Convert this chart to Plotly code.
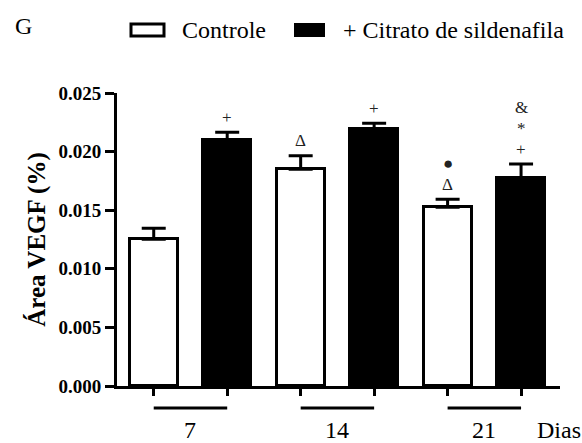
import plotly.graph_objects as go

# ---- data ----
days = ["7", "14", "21"]
group_names = ["Controle", "+ Citrato de sildenafila"]
controle_mean = [0.01252, 0.01849, 0.01525]
controle_sem = [0.00094, 0.00116, 0.00068]
sild_mean = [0.02099, 0.02196, 0.01777]
sild_sem = [0.00066, 0.00045, 0.00117]
controle_sig = [[], ["Δ"], ["Δ", "●"]]
sild_sig = [["+"], ["+"], ["+", "*", "&"]]
y_ticks = [0.000, 0.005, 0.010, 0.015, 0.020, 0.025]
y_title = "Área VEGF (%)"
x_unit = "Dias"
panel = "G"

# ---- geometry ----
W, H = 582, 443
ML, MR, MT, MB = 117, 22, 93, 57
PW, PH = W - ML - MR, H - MT - MB


def px_x(x):
    return (x - ML) / PW


def px_y(y):
    return (H - MB - y) / PH


SERIF = "Liberation Serif"

ctrl_pos = [2 * i for i in range(len(days))]
sild_pos = [2 * i + 1 for i in range(len(days))]

fig = go.Figure()
fig.add_trace(go.Bar(
    x=ctrl_pos, y=controle_mean, name=group_names[0], width=0.655,
    marker=dict(color="white", line=dict(color="black", width=3)),
    error_y=dict(type="data", symmetric=False, array=controle_sem,
                 arrayminus=[0] * len(days), color="black", thickness=3, width=12),
))
fig.add_trace(go.Bar(
    x=sild_pos, y=sild_mean, name=group_names[1], width=0.655,
    marker=dict(color="black", line=dict(color="black", width=3)),
    error_y=dict(type="data", symmetric=False, array=sild_sem,
                 arrayminus=[0] * len(days), color="black", thickness=3, width=12),
))

annotations = []
# significance symbols
for pos, mean, sem, sig in list(zip(ctrl_pos, controle_mean, controle_sem, controle_sig)) + \
        list(zip(sild_pos, sild_mean, sild_sem, sild_sig)):
    for k, s in enumerate(sig):
        annotations.append(dict(
            x=pos, y=mean + sem, xref="x", yref="y", text=s, showarrow=False,
            yanchor="middle", xanchor="center", yshift=15 + 21 * k,
            font=dict(family=SERIF, size=17, color="#222")))

shapes = []
# group underlines and labels
for i, d in enumerate(days):
    shapes.append(dict(type="line", xref="x", yref="paper",
                       x0=ctrl_pos[i], x1=sild_pos[i], y0=px_y(408), y1=px_y(408),
                       line=dict(color="black", width=3)))
    annotations.append(dict(x=(ctrl_pos[i] + sild_pos[i]) / 2, y=px_y(430),
                            xref="x", yref="paper", text=d, showarrow=False,
                            xanchor="center", yanchor="middle",
                            font=dict(family=SERIF, size=24, color="black")))
annotations.append(dict(x=px_x(535), y=px_y(430), xref="paper", yref="paper",
                        text=x_unit, showarrow=False, xanchor="left", yanchor="middle",
                        font=dict(family=SERIF, size=24, color="black")))

# panel letter
annotations.append(dict(x=px_x(13), y=px_y(26), xref="paper", yref="paper",
                        text=panel, showarrow=False, xanchor="left", yanchor="middle",
                        font=dict(family=SERIF, size=24, color="black")))

# manual legend
shapes.append(dict(type="rect", xref="paper", yref="paper",
                   x0=px_x(131), x1=px_x(164), y0=px_y(36), y1=px_y(24),
                   fillcolor="white", line=dict(color="black", width=3)))
annotations.append(dict(x=px_x(180), y=px_y(30), xref="paper", yref="paper",
                        text=group_names[0], showarrow=False, xanchor="left", yanchor="middle",
                        font=dict(family=SERIF, size=24, color="black")))
shapes.append(dict(type="rect", xref="paper", yref="paper",
                   x0=px_x(294), x1=px_x(325), y0=px_y(37), y1=px_y(23),
                   fillcolor="black", line=dict(color="black", width=0)))
annotations.append(dict(x=px_x(341), y=px_y(30), xref="paper", yref="paper",
                        text=group_names[1], showarrow=False, xanchor="left", yanchor="middle",
                        font=dict(family=SERIF, size=24, color="black")))

fig.update_layout(
    width=W, height=H,
    margin=dict(l=ML, r=MR, t=MT, b=MB, pad=0),
    paper_bgcolor="white", plot_bgcolor="white",
    showlegend=False, bargap=0,
    annotations=annotations, shapes=shapes,
    font=dict(family=SERIF, color="black"),
)
fig.update_xaxes(
    range=[-0.5, 5.53], tickvals=ctrl_pos + sild_pos,
    ticktext=[""] * (len(ctrl_pos) + len(sild_pos)),
    ticks="outside", ticklen=7, tickwidth=3, tickcolor="black",
    showline=True, linewidth=3, linecolor="black",
    showgrid=False, zeroline=False, fixedrange=True,
)
fig.update_yaxes(
    range=[0, 0.025], tickvals=y_ticks,
    ticktext=["<b>%.3f</b>" % v for v in y_ticks],
    ticks="outside", ticklen=9, tickwidth=3, tickcolor="black",
    tickfont=dict(family=SERIF, size=19, color="black"),
    showline=True, linewidth=3, linecolor="black",
    showgrid=False, zeroline=False,
    title=dict(text="<b>" + y_title + "</b>", standoff=6,
               font=dict(family=SERIF, size=25, color="black")),
)

fig.write_html("out.html", config={"displayModeBar": False},
               post_script="document.body.style.margin='0';")
